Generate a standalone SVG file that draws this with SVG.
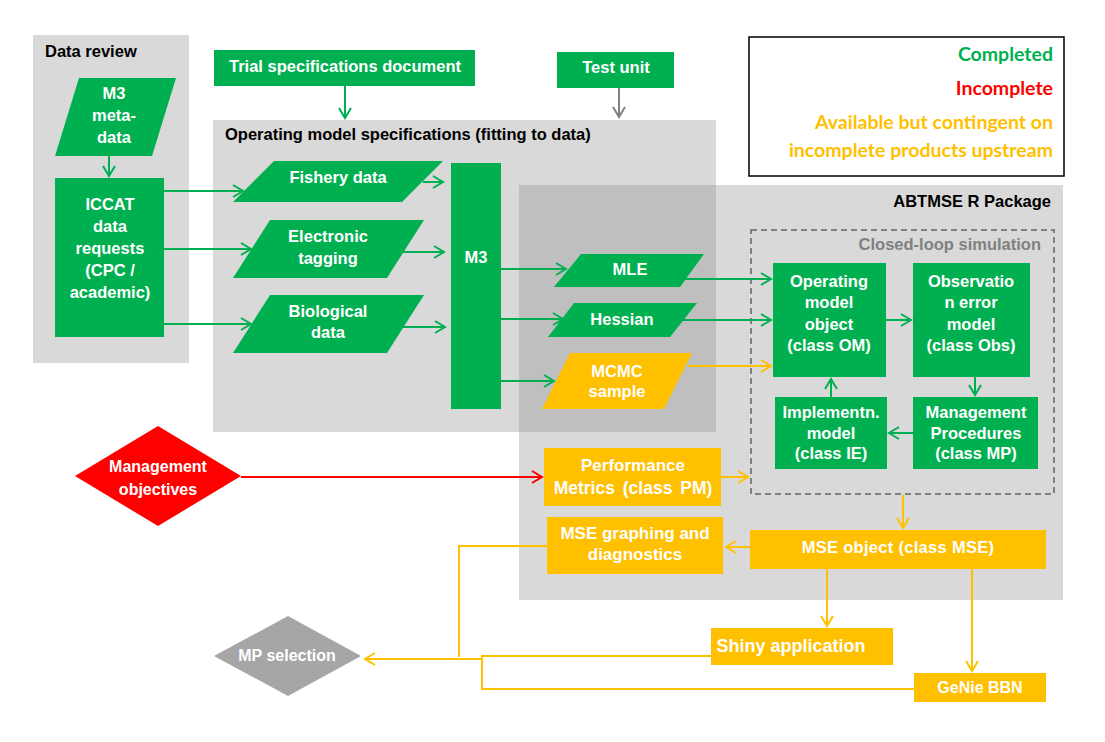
<svg xmlns="http://www.w3.org/2000/svg" width="1105" height="742" viewBox="0 0 1105 742">
<defs>
<style>
.t{font-family:"Liberation Sans",Arial,sans-serif;font-weight:bold;font-size:16.5px;fill:#fff;text-anchor:middle}
.n{font-family:"Liberation Sans Narrow","Liberation Sans",Arial,sans-serif;font-weight:bold;font-size:16px;fill:#fff;text-anchor:middle}
.h{font-family:"Liberation Sans",Arial,sans-serif;font-weight:bold;font-size:16.5px;fill:#000}
.lg{font-family:Lato,"Liberation Sans",sans-serif;font-weight:bold;font-size:19.5px;text-anchor:end}
.g{fill:#00b050}.y{fill:#ffc000}.r{fill:#ff0000}
.panel{fill:#d9d9d9}
.cg{stroke:#00b050;stroke-width:2;fill:none;marker-end:url(#ag)}
.cy{stroke:#ffc000;stroke-width:2;fill:none}
.cya{stroke:#ffc000;stroke-width:2;fill:none;marker-end:url(#ay)}
.cr{stroke:#ff0000;stroke-width:2;fill:none;marker-end:url(#ar)}
.cgr{stroke:#808080;stroke-width:2;fill:none;marker-end:url(#agr)}
</style>
<marker id="ag" markerUnits="userSpaceOnUse" markerWidth="14" markerHeight="14" viewBox="0 0 12 14" refX="11" refY="7" orient="auto"><path d="M1,1 L11,7 L1,13" fill="none" stroke="#00b050" stroke-width="2"/></marker>
<marker id="ay" markerUnits="userSpaceOnUse" markerWidth="14" markerHeight="14" viewBox="0 0 12 14" refX="11" refY="7" orient="auto"><path d="M1,1 L11,7 L1,13" fill="none" stroke="#ffc000" stroke-width="2"/></marker>
<marker id="ar" markerUnits="userSpaceOnUse" markerWidth="14" markerHeight="14" viewBox="0 0 12 14" refX="11" refY="7" orient="auto"><path d="M1,1 L11,7 L1,13" fill="none" stroke="#ff0000" stroke-width="2"/></marker>
<marker id="agr" markerUnits="userSpaceOnUse" markerWidth="14" markerHeight="14" viewBox="0 0 12 14" refX="11" refY="7" orient="auto"><path d="M1,1 L11,7 L1,13" fill="none" stroke="#808080" stroke-width="2"/></marker>
</defs>
<rect width="1105" height="742" fill="#fff"/>

<g id="panels">
<rect class="panel" x="33" y="35" width="156" height="328"/>
<rect class="panel" x="213" y="120" width="503" height="312"/>
<rect class="panel" x="519" y="185" width="544" height="415"/>
<rect x="519" y="185" width="197" height="247" fill="#bfbfbf"/>
<text class="h" x="45" y="57">Data review</text>
<text class="h" x="225" y="140">Operating model specifications (fitting to data)</text>
<text class="h" x="1051" y="207" text-anchor="end">ABTMSE R Package</text>
<rect x="751" y="230" width="303" height="264" fill="none" stroke="#808080" stroke-width="2" stroke-dasharray="6,4"/>
<text class="h" x="1041" y="250" text-anchor="end" style="fill:#808080">Closed-loop simulation</text>
</g>

<g id="legend">
<rect x="749" y="37" width="315" height="139" fill="#fff" stroke="#000" stroke-width="1.5"/>
<text class="lg g" x="1053" y="61">Completed</text>
<text class="lg r" x="1053" y="95">Incomplete</text>
<text class="lg y" x="1053" y="129">Available but contingent on</text>
<text class="lg y" x="1053" y="157">incomplete products upstream</text>
</g>

<g id="connectors">
<path class="cg" d="M109,156 V176"/>
<path class="cg" d="M164,191 H243"/>
<path class="cg" d="M164,249 H251"/>
<path class="cg" d="M164,324 H251"/>
<path class="cg" d="M423,182 H443"/>
<path class="cg" d="M403,252 H444"/>
<path class="cg" d="M403,327 H445"/>
<path class="cg" d="M501,269 H566"/>
<path class="cg" d="M501,319 H563"/>
<path class="cg" d="M501,381 H554"/>
<path class="cg" d="M684,279 H771"/>
<path class="cg" d="M668,320 H771"/>
<path class="cg" d="M886,320 H911"/>
<path class="cg" d="M975,377 V395"/>
<path class="cg" d="M913,433 H889"/>
<path class="cg" d="M831,397 V379"/>
<path class="cg" d="M345,86 V118"/>
<path class="cgr" d="M619,88 V117"/>
<path class="cr" d="M241,477 H542"/>
<path class="cya" d="M688,366 H771"/>
<path class="cya" d="M721,477 H748"/>
<path class="cya" d="M903,495 V528"/>
<path class="cya" d="M750,547 H726"/>
<path class="cya" d="M827,569 V626"/>
<path class="cya" d="M972,569 V671"/>
<path class="cy" d="M547,546 H459 V657"/>
<path class="cy" d="M711,656 H482 V689 H914"/>
<path class="cya" d="M482,659 H365"/>
</g>

<g id="trial"><rect class="g" x="214" y="50" width="261" height="36"/><text class="t" x="345" y="72">Trial specifications document</text></g>
<g id="test"><rect class="g" x="557" y="52" width="117" height="36"/><text class="t" x="616" y="73">Test unit</text></g>

<g id="m3meta"><polygon class="g" points="79,78 176,78 152,156 55,156"/><text class="t" x="114" y="99">M3</text><text class="t" x="114" y="121">meta-</text><text class="t" x="114" y="143">data</text></g>
<g id="iccat"><rect class="g" x="55" y="178" width="109" height="159"/><text class="t" x="110" y="210">ICCAT</text><text class="t" x="110" y="232">data</text><text class="t" x="110" y="254">requests</text><text class="t" x="110" y="276">(CPC /</text><text class="t" x="110" y="298">academic)</text></g>

<g id="fishery"><polygon class="g" points="274,161 443,161 402,202 233,202"/><text class="t" x="338" y="183">Fishery data</text></g>
<g id="etag"><polygon class="g" points="270,220 424,220 387,278 233,278"/><text class="t" x="328" y="242">Electronic</text><text class="t" x="328" y="264">tagging</text></g>
<g id="bio"><polygon class="g" points="270,295 424,295 387,353 233,353"/><text class="t" x="328" y="317">Biological</text><text class="t" x="328" y="338">data</text></g>
<g id="m3"><rect class="g" x="451" y="163" width="50" height="246"/><text class="t" x="476" y="263">M3</text></g>

<g id="mle"><polygon class="g" points="581,254 704,254 680,287 554,287"/><text class="t" x="630" y="275">MLE</text></g>
<g id="hessian"><polygon class="g" points="574,303 697,303 670,337 548,337"/><text class="t" x="622" y="325">Hessian</text></g>
<g id="mcmc"><polygon class="y" points="570,353 692,353 664,409 542,409"/><text class="t" x="617" y="377">MCMC</text><text class="t" x="617" y="397">sample</text></g>

<g id="om"><rect class="g" x="773" y="263" width="113" height="114"/><text class="t" x="829" y="287">Operating</text><text class="t" x="829" y="308">model</text><text class="t" x="829" y="330">object</text><text class="t" x="829" y="351">(class OM)</text></g>
<g id="obs"><rect class="g" x="913" y="263" width="117" height="114"/><text class="t" x="971" y="287">Observatio</text><text class="t" x="971" y="308">n error</text><text class="t" x="971" y="330">model</text><text class="t" x="971" y="351">(class Obs)</text></g>
<g id="ie"><rect class="g" x="775" y="397" width="112" height="72"/><text class="t" x="831" y="418">Implementn.</text><text class="t" x="831" y="439">model</text><text class="t" x="831" y="459">(class IE)</text></g>
<g id="mp"><rect class="g" x="913" y="397" width="125" height="72"/><text class="t" x="976" y="418">Management</text><text class="t" x="976" y="439">Procedures</text><text class="t" x="976" y="459">(class MP)</text></g>

<g id="mgmtobj"><polygon class="r" points="75,476 158,426 241,476 158,526"/><text class="n" x="158" y="472">Management</text><text class="n" x="158" y="495">objectives</text></g>
<g id="pm"><rect class="y" x="544" y="448" width="177" height="58"/><text class="n" x="633" y="471" style="font-size:17px">Performance</text><text class="n" x="633" y="494" style="font-size:17.5px;word-spacing:3px">Metrics (class PM)</text></g>
<g id="graph"><rect class="y" x="547" y="517" width="176" height="57"/><text class="n" x="635" y="539" style="font-size:17px">MSE graphing and</text><text class="n" x="635" y="560" style="font-size:17px">diagnostics</text></g>
<g id="mse"><rect class="y" x="750" y="530" width="296" height="39"/><text class="t" x="898" y="553" letter-spacing="0.3">MSE object (class MSE)</text></g>
<g id="shiny"><rect class="y" x="711" y="628" width="182" height="37"/><text class="n" x="791" y="652" style="font-size:18px">Shiny application</text></g>
<g id="genie"><rect class="y" x="914" y="673" width="132" height="29"/><text class="n" x="980" y="693">GeNie BBN</text></g>
<g id="mpsel"><polygon points="214,656 288,616 361,656 288,696" fill="#a6a6a6"/><text class="n" x="287" y="661">MP selection</text></g>
</svg>
